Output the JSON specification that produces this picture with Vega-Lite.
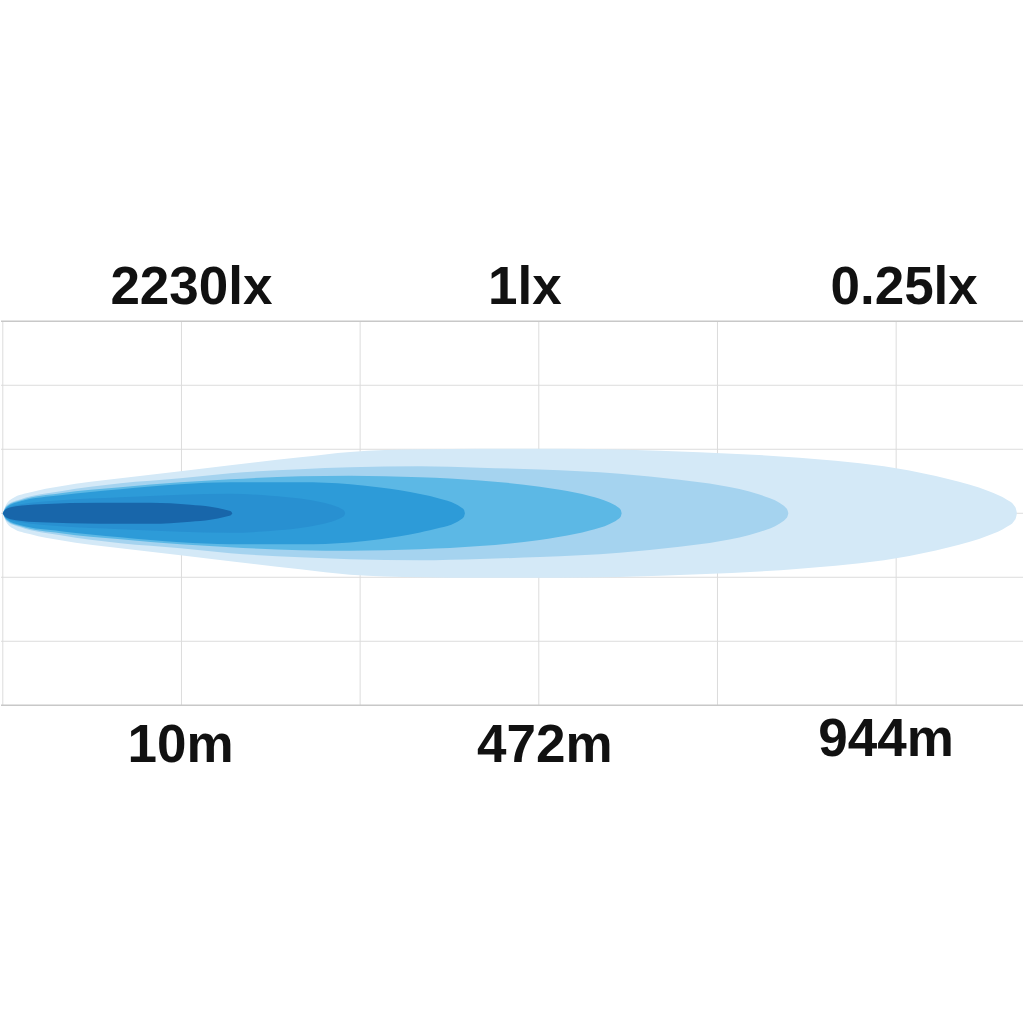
{
  "$schema": "https://vega.github.io/schema/vega-lite/v6.json",
  "width": 1024,
  "height": 1024,
  "padding": 0,
  "autosize": {"type": "fit", "contains": "padding"},
  "background": "white",
  "config": {"view": {"stroke": null}, "axis": {"disable": true}, "legend": {"disable": true}},
  "datasets": {
    "gridV": [{"u": 0}, {"u": 1}, {"u": 2}, {"u": 3}, {"u": 4}, {"u": 5}],
    "gridH": [{"v": -2}, {"v": -1}, {"v": 0}, {"v": 1}, {"v": 2}],
    "frameH": [{"v": -3}, {"v": 3}],
    "beams": [
      {"beam": "b1", "d": 0, "lo": 0, "hi": 0},
      {"beam": "b1", "d": 0.0168, "lo": -0.125, "hi": 0.125},
      {"beam": "b1", "d": 0.0559, "lo": -0.234, "hi": 0.234},
      {"beam": "b1", "d": 0.1564, "lo": -0.328, "hi": 0.328},
      {"beam": "b1", "d": 0.324, "lo": -0.422, "hi": 0.422},
      {"beam": "b1", "d": 0.6592, "lo": -0.547, "hi": 0.547},
      {"beam": "b1", "d": 0.9944, "lo": -0.656, "hi": 0.656},
      {"beam": "b1", "d": 1.2737, "lo": -0.75, "hi": 0.75},
      {"beam": "b1", "d": 1.6648, "lo": -0.875, "hi": 0.875},
      {"beam": "b1", "d": 1.9441, "lo": -0.959, "hi": 0.959},
      {"beam": "b1", "d": 2.3352, "lo": -1.0, "hi": 1.0},
      {"beam": "b1", "d": 2.6704, "lo": -1.008, "hi": 1.008},
      {"beam": "b1", "d": 3.1173, "lo": -1.008, "hi": 1.008},
      {"beam": "b1", "d": 3.4525, "lo": -0.996, "hi": 0.996},
      {"beam": "b1", "d": 3.8994, "lo": -0.953, "hi": 0.953},
      {"beam": "b1", "d": 4.4581, "lo": -0.867, "hi": 0.867},
      {"beam": "b1", "d": 5.0, "lo": -0.703, "hi": 0.703},
      {"beam": "b1", "d": 5.2961, "lo": -0.531, "hi": 0.531},
      {"beam": "b1", "d": 5.5196, "lo": -0.344, "hi": 0.344},
      {"beam": "b1", "d": 5.6201, "lo": -0.211, "hi": 0.211},
      {"beam": "b1", "d": 5.6592, "lo": -0.125, "hi": 0.125},
      {"beam": "b1", "d": 5.6704, "lo": -0.07, "hi": 0.07},
      {"beam": "b1", "d": 5.676, "lo": 0, "hi": 0},

      {"beam": "b2", "d": 0, "lo": 0, "hi": 0},
      {"beam": "b2", "d": 0.0223, "lo": -0.125, "hi": 0.125},
      {"beam": "b2", "d": 0.1006, "lo": -0.219, "hi": 0.219},
      {"beam": "b2", "d": 0.324, "lo": -0.344, "hi": 0.344},
      {"beam": "b2", "d": 0.6592, "lo": -0.469, "hi": 0.469},
      {"beam": "b2", "d": 0.9944, "lo": -0.547, "hi": 0.547},
      {"beam": "b2", "d": 1.2737, "lo": -0.625, "hi": 0.625},
      {"beam": "b2", "d": 1.6648, "lo": -0.688, "hi": 0.688},
      {"beam": "b2", "d": 1.9441, "lo": -0.719, "hi": 0.719},
      {"beam": "b2", "d": 2.3352, "lo": -0.734, "hi": 0.734},
      {"beam": "b2", "d": 2.6704, "lo": -0.713, "hi": 0.713},
      {"beam": "b2", "d": 3.0056, "lo": -0.684, "hi": 0.684},
      {"beam": "b2", "d": 3.4525, "lo": -0.617, "hi": 0.617},
      {"beam": "b2", "d": 3.7877, "lo": -0.523, "hi": 0.523},
      {"beam": "b2", "d": 4.0112, "lo": -0.438, "hi": 0.438},
      {"beam": "b2", "d": 4.2346, "lo": -0.293, "hi": 0.293},
      {"beam": "b2", "d": 4.3464, "lo": -0.164, "hi": 0.164},
      {"beam": "b2", "d": 4.3799, "lo": -0.094, "hi": 0.094},
      {"beam": "b2", "d": 4.3911, "lo": -0.055, "hi": 0.055},
      {"beam": "b2", "d": 4.3966, "lo": 0, "hi": 0},

      {"beam": "b3", "d": 0, "lo": 0, "hi": 0},
      {"beam": "b3", "d": 0.0223, "lo": -0.109, "hi": 0.109},
      {"beam": "b3", "d": 0.1006, "lo": -0.203, "hi": 0.203},
      {"beam": "b3", "d": 0.324, "lo": -0.313, "hi": 0.313},
      {"beam": "b3", "d": 0.6592, "lo": -0.406, "hi": 0.406},
      {"beam": "b3", "d": 0.9944, "lo": -0.484, "hi": 0.484},
      {"beam": "b3", "d": 1.2737, "lo": -0.531, "hi": 0.531},
      {"beam": "b3", "d": 1.6648, "lo": -0.578, "hi": 0.578},
      {"beam": "b3", "d": 1.9441, "lo": -0.586, "hi": 0.586},
      {"beam": "b3", "d": 2.3352, "lo": -0.563, "hi": 0.563},
      {"beam": "b3", "d": 2.6704, "lo": -0.513, "hi": 0.513},
      {"beam": "b3", "d": 3.0056, "lo": -0.416, "hi": 0.416},
      {"beam": "b3", "d": 3.1173, "lo": -0.367, "hi": 0.367},
      {"beam": "b3", "d": 3.2849, "lo": -0.27, "hi": 0.27},
      {"beam": "b3", "d": 3.3966, "lo": -0.168, "hi": 0.168},
      {"beam": "b3", "d": 3.4413, "lo": -0.098, "hi": 0.098},
      {"beam": "b3", "d": 3.4581, "lo": -0.055, "hi": 0.055},
      {"beam": "b3", "d": 3.4637, "lo": 0, "hi": 0},

      {"beam": "b4", "d": 0, "lo": 0, "hi": 0},
      {"beam": "b4", "d": 0.0223, "lo": -0.094, "hi": 0.094},
      {"beam": "b4", "d": 0.1006, "lo": -0.188, "hi": 0.188},
      {"beam": "b4", "d": 0.324, "lo": -0.281, "hi": 0.281},
      {"beam": "b4", "d": 0.6592, "lo": -0.375, "hi": 0.375},
      {"beam": "b4", "d": 0.9944, "lo": -0.453, "hi": 0.453},
      {"beam": "b4", "d": 1.2737, "lo": -0.484, "hi": 0.484},
      {"beam": "b4", "d": 1.6648, "lo": -0.484, "hi": 0.484},
      {"beam": "b4", "d": 1.9441, "lo": -0.455, "hi": 0.455},
      {"beam": "b4", "d": 2.1117, "lo": -0.404, "hi": 0.404},
      {"beam": "b4", "d": 2.2235, "lo": -0.359, "hi": 0.359},
      {"beam": "b4", "d": 2.3352, "lo": -0.3, "hi": 0.3},
      {"beam": "b4", "d": 2.4469, "lo": -0.228, "hi": 0.228},
      {"beam": "b4", "d": 2.5307, "lo": -0.15, "hi": 0.15},
      {"beam": "b4", "d": 2.5642, "lo": -0.096, "hi": 0.096},
      {"beam": "b4", "d": 2.581, "lo": -0.055, "hi": 0.055},
      {"beam": "b4", "d": 2.5866, "lo": 0, "hi": 0},

      {"beam": "b5", "d": 0, "lo": 0, "hi": 0},
      {"beam": "b5", "d": 0.0223, "lo": -0.078, "hi": 0.078},
      {"beam": "b5", "d": 0.1006, "lo": -0.141, "hi": 0.141},
      {"beam": "b5", "d": 0.324, "lo": -0.203, "hi": 0.203},
      {"beam": "b5", "d": 0.6592, "lo": -0.25, "hi": 0.25},
      {"beam": "b5", "d": 0.9944, "lo": -0.289, "hi": 0.289},
      {"beam": "b5", "d": 1.2737, "lo": -0.305, "hi": 0.305},
      {"beam": "b5", "d": 1.4972, "lo": -0.275, "hi": 0.275},
      {"beam": "b5", "d": 1.6648, "lo": -0.229, "hi": 0.229},
      {"beam": "b5", "d": 1.7765, "lo": -0.176, "hi": 0.176},
      {"beam": "b5", "d": 1.8603, "lo": -0.113, "hi": 0.113},
      {"beam": "b5", "d": 1.8994, "lo": -0.0625, "hi": 0.0625},
      {"beam": "b5", "d": 1.9106, "lo": -0.039, "hi": 0.039},
      {"beam": "b5", "d": 1.9162, "lo": 0, "hi": 0},

      {"beam": "b6", "d": 0, "lo": 0, "hi": 0},
      {"beam": "b6", "d": 0.0168, "lo": -0.0625, "hi": 0.0625},
      {"beam": "b6", "d": 0.0726, "lo": -0.109, "hi": 0.109},
      {"beam": "b6", "d": 0.2123, "lo": -0.141, "hi": 0.141},
      {"beam": "b6", "d": 0.5475, "lo": -0.164, "hi": 0.164},
      {"beam": "b6", "d": 0.8268, "lo": -0.164, "hi": 0.164},
      {"beam": "b6", "d": 0.9385, "lo": -0.156, "hi": 0.156},
      {"beam": "b6", "d": 1.0503, "lo": -0.133, "hi": 0.133},
      {"beam": "b6", "d": 1.162, "lo": -0.102, "hi": 0.102},
      {"beam": "b6", "d": 1.2458, "lo": -0.055, "hi": 0.055},
      {"beam": "b6", "d": 1.2682, "lo": -0.039, "hi": 0.039},
      {"beam": "b6", "d": 1.2793, "lo": -0.023, "hi": 0.023},
      {"beam": "b6", "d": 1.2849, "lo": 0, "hi": 0}
    ],
    "labels": [
      {"label": "2230lx", "u": 1.0559, "v": 3.266},
      {"label": "1lx", "u": 2.9218, "v": 3.266},
      {"label": "0.25lx", "u": 5.0447, "v": 3.266},
      {"label": "10m", "u": 0.9944, "v": -3.891},
      {"label": "472m", "u": 3.0335, "v": -3.891},
      {"label": "944m", "u": 4.9441, "v": -3.797}
    ]
  },
  "layer": [
    {
      "data": {"name": "gridV"},
      "mark": {"type": "rule", "color": "#dcdcdc", "strokeWidth": 1},
      "encoding": {
        "x": {"field": "u", "type": "quantitative", "scale": {"domain": [-0.01, 5.71], "nice": false, "zero": false}},
        "y": {"datum": -3, "type": "quantitative", "scale": {"domain": [-7.98, 8.02], "nice": false, "zero": false}},
        "y2": {"datum": 3}
      }
    },
    {
      "data": {"name": "gridH"},
      "mark": {"type": "rule", "color": "#dcdcdc", "strokeWidth": 1},
      "encoding": {
        "y": {"field": "v", "type": "quantitative", "scale": {"domain": [-7.98, 8.02], "nice": false, "zero": false}},
        "x": {"datum": -0.01, "type": "quantitative", "scale": {"domain": [-0.01, 5.71], "nice": false, "zero": false}},
        "x2": {"datum": 5.71}
      }
    },
    {
      "data": {"name": "frameH"},
      "mark": {"type": "rule", "color": "#c8c8c8", "strokeWidth": 1.6},
      "encoding": {
        "y": {"field": "v", "type": "quantitative", "scale": {"domain": [-7.98, 8.02], "nice": false, "zero": false}},
        "x": {"datum": -0.01, "type": "quantitative", "scale": {"domain": [-0.01, 5.71], "nice": false, "zero": false}},
        "x2": {"datum": 5.71}
      }
    },
    {
      "data": {"name": "beams"},
      "mark": {"type": "area", "interpolate": "monotone", "opacity": 1},
      "encoding": {
        "x": {"field": "d", "type": "quantitative", "scale": {"domain": [-0.01, 5.71], "nice": false, "zero": false}},
        "y": {"field": "lo", "type": "quantitative", "stack": null, "scale": {"domain": [-7.98, 8.02], "nice": false, "zero": false}},
        "y2": {"field": "hi"},
        "color": {
          "field": "beam",
          "type": "nominal",
          "scale": {"domain": ["b1", "b2", "b3", "b4", "b5", "b6"], "range": ["#d4e9f7", "#a5d3ef", "#5cb8e5", "#2d9bd8", "#2890d1", "#1866aa"]},
          "legend": null
        }
      }
    },
    {
      "data": {"name": "labels"},
      "mark": {"type": "text", "align": "center", "baseline": "alphabetic", "font": "Liberation Sans", "fontWeight": "bold", "fontSize": 53, "color": "#111111"},
      "encoding": {
        "x": {"field": "u", "type": "quantitative", "scale": {"domain": [-0.01, 5.71], "nice": false, "zero": false}},
        "y": {"field": "v", "type": "quantitative", "scale": {"domain": [-7.98, 8.02], "nice": false, "zero": false}},
        "text": {"field": "label", "type": "nominal"}
      }
    }
  ]
}
